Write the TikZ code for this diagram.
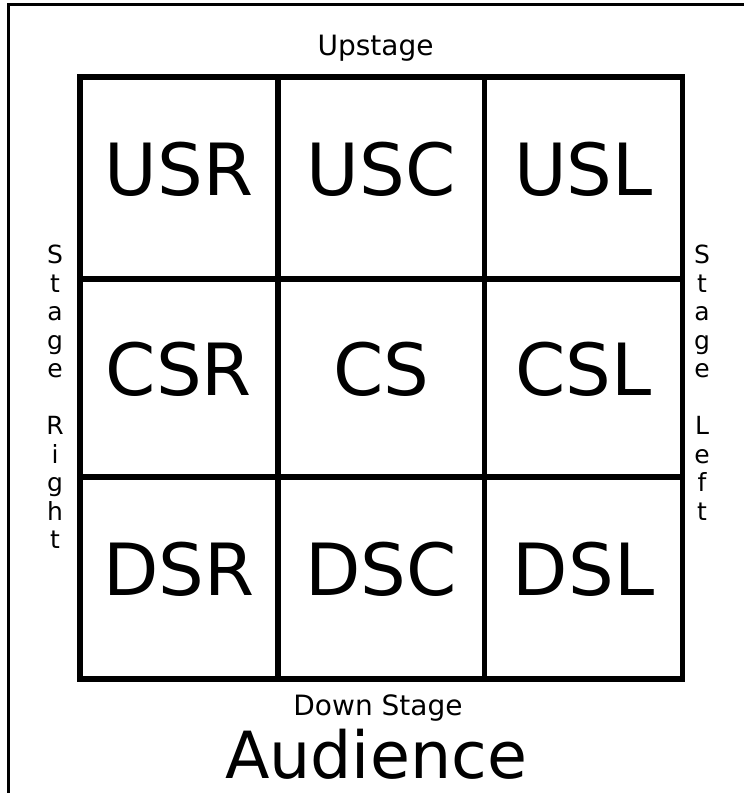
\documentclass[tikz,border=0pt]{standalone}
\usepackage{fontspec}
\setmainfont{DejaVu Sans}
\usetikzlibrary{positioning}

\begin{document}
\begin{tikzpicture}[
    x=1pt, y=-1pt,
    frame/.style={line width=2.5pt},
    grid/.style={line width=5.5pt},
    cell/.style={anchor=base, inner sep=0pt, font=\fontsize{72}{86}\selectfont},
    caption/.style={anchor=base, inner sep=0pt, font=\fontsize{28}{34}\selectfont},
    side/.style={anchor=north, inner sep=0pt, align=center, font=\fontsize{25}{28.5}\selectfont}
]
\useasboundingbox (0,0) rectangle (744,793);

% Outer frame (only left and top edges show)
\draw[frame] (8.5,793) |- (744,4.5);

% Stage grid
\draw[grid] (80,77) rectangle (682.5,679);
\draw[grid] (278,77) -- (278,679);
\draw[grid] (484.5,77) -- (484.5,679);
\draw[grid] (80,279) -- (682.5,279);
\draw[grid] (80,477) -- (682.5,477);

% Stage areas
\node[cell] (usr) at (179,195) {USR};
\node[cell] (usc) at (381,195) {USC};
\node[cell] (usl) at (583.5,195) {USL};
\node[cell] (csr) at (179,395) {CSR};
\node[cell] (cs)  at (381,395) {CS};
\node[cell] (csl) at (583.5,395) {CSL};
\node[cell] (dsr) at (179,595) {DSR};
\node[cell] (dsc) at (381,595) {DSC};
\node[cell] (dsl) at (583.5,595) {DSL};

% Edge labels
\node[caption] (upstage) at (375.5,55) {Upstage};
\node[caption] (downstage) at (378,715) {Down Stage};
\node[side] (stageright) at (55,245) {S\\t\\a\\g\\e\\[28.5pt]R\\i\\g\\h\\t};
\node[side] (stageleft) at (702,245) {S\\t\\a\\g\\e\\[28.5pt]L\\e\\f\\t};
\node[anchor=base, inner sep=0pt, font=\fontsize{65}{78}\selectfont] (audience) at (376,778) {Audience};

\end{tikzpicture}
\end{document}
